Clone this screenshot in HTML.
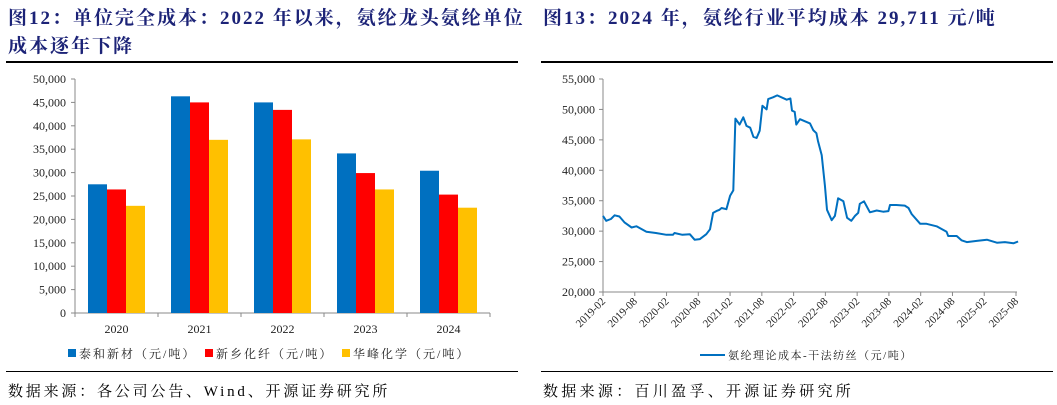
<!DOCTYPE html>
<html><head><meta charset="utf-8">
<style>
body{margin:0;width:1057px;height:405px;background:#fff;overflow:hidden;font-family:"Liberation Serif","Noto Serif CJK SC",serif;}
.t{position:absolute;color:#1c2377;font-weight:bold;font-size:19px;line-height:28px;letter-spacing:2px;font-family:"Liberation Serif","Noto Serif CJK SC",serif;white-space:nowrap;}
.rule{position:absolute;height:2px;background:#000;}
.src{position:absolute;font-size:15px;color:#000;letter-spacing:2.8px;font-family:"Liberation Serif","Noto Serif CJK SC",serif;white-space:nowrap;}
svg{position:absolute;left:0;top:0;}
svg text{font-family:"Liberation Serif","Noto Serif CJK SC",serif;}
</style></head><body>
<div class="t" style="left:8px;top:5px;">图12：单位完全成本：2022 年以来，氨纶龙头氨纶单位<br>成本逐年下降</div>
<div class="t" style="left:543px;top:5px;">图13：2024 年，氨纶行业平均成本 29,711 元/吨</div>
<div class="rule" style="left:6px;top:61px;width:512px;"></div>
<div class="rule" style="left:541px;top:61px;width:512px;"></div>
<div class="rule" style="left:6px;top:371px;width:512px;height:1px;"></div>
<div class="rule" style="left:541px;top:371px;width:512px;height:1px;"></div>
<div class="src" style="left:8px;top:380px;">数据来源：各公司公告、Wind、开源证券研究所</div>
<div class="src" style="left:543px;top:380px;letter-spacing:3.3px;">数据来源：百川盈孚、开源证券研究所</div>
<svg id="chart" width="1057" height="405"></svg>
<script>
const years=["2020","2021","2022","2023","2024"];
const taihe=[27500,46300,45000,34100,30400];
const xinxiang=[26400,45000,43400,29900,25300];
const huafeng=[22900,37000,37100,26400,22500];
const barTicks=[0,5000,10000,15000,20000,25000,30000,35000,40000,45000,50000];
const seriesNames=["泰和新材（元/吨）","新乡化纤（元/吨）","华峰化学（元/吨）"];
const lineMonths=[0,0.6,1.5,2.2,3.1,4.1,5.4,6.3,8.2,10,12,13.2,13.5,15,16.4,17.3,18.3,19.5,20.2,20.8,21.4,22,22.4,23.3,24,24.6,25,25.8,26.5,27.1,27.8,28.4,29,29.6,30.1,30.9,31.2,32.1,32.9,34.7,35.4,35.7,36.2,36.5,37.2,39.1,39.7,40.3,40.6,41.3,41.9,42.3,43.2,43.8,44.4,45.4,46.1,46.9,47.6,48.2,48.5,49.3,50.4,51.7,52.9,53.9,54.2,55.4,57,57.7,58.3,59.9,61.1,63,64.9,65.2,66.8,67.7,68.7,70.6,72.5,74.4,75.9,77.5,78.4];
const lineValues=[32500,31700,32000,32600,32400,31400,30600,30800,29900,29700,29400,29400,29700,29400,29500,28600,28700,29500,30300,33000,33300,33500,33800,33600,35800,36700,48500,47500,48700,47300,47000,45500,45300,46500,50600,50000,51700,52000,52300,51600,51800,49800,49600,47500,48400,47700,46600,46100,44800,42500,37500,33500,31800,32500,35400,34900,32200,31700,32500,33000,34500,34900,33100,33400,33200,33300,34300,34300,34200,33800,32800,31200,31200,30800,29900,29200,29200,28500,28200,28400,28600,28100,28200,28000,28300];
const lineTicks=[20000,25000,30000,35000,40000,45000,50000,55000];
const dateLabels=["2019-02","2019-08","2020-02","2020-08","2021-02","2021-08","2022-02","2022-08","2023-02","2023-08","2024-02","2024-08","2025-02","2025-08"];

const svg=document.getElementById('chart');
const NS="http://www.w3.org/2000/svg";
function mk(tag,attrs,parent){const e=document.createElementNS(NS,tag);for(const k in attrs)e.setAttribute(k,attrs[k]);(parent||svg).appendChild(e);return e;}
const fmt=v=>v.toLocaleString('en-US');

// ---- bar chart ----
const bx0=75,bx1=490,by0=313,by1=79;
const byS=v=>by0-(v/50000)*(by0-by1);
const catW=(bx1-bx0)/years.length;
const bxS=i=>bx0+i*catW;
let e;
e=mk('line',{x1:bx0,y1:by1,x2:bx0,y2:by0,stroke:'#888','stroke-width':1});


e=mk('line',{x1:bx0,y1:by0,x2:bx1,y2:by0,stroke:'#888','stroke-width':1});


barTicks.forEach(v=>{
  mk('line',{x1:bx0-4,y1:byS(v),x2:bx0,y2:byS(v),stroke:'#888'});
  e=mk('text',{x:bx0-9,y:byS(v)+4,'text-anchor':'end','font-size':12,fill:'#222'});
  e.textContent=fmt(v);
  
  
});
for(let i=0;i<=years.length;i++)mk('line',{x1:bxS(i),y1:by0,x2:bxS(i),y2:by0+4,stroke:'#888'});
const colors=['#0070c0','#ff0000','#ffc000'];
const barW=19,gap=(catW-3*barW)/2;
[taihe,xinxiang,huafeng].forEach((s,si)=>{
  s.forEach((v,i)=>{
    e=mk('rect',{x:bxS(i)+gap+si*barW,y:byS(v),width:barW,height:by0-byS(v),fill:colors[si]});
    
    
  });
});
years.forEach((y,i)=>{
  e=mk('text',{x:bxS(i)+catW/2,y:333,'text-anchor':'middle','font-size':12,fill:'#222'});
  e.textContent=y;
  
  
});
const legX=[68,205,342];
seriesNames.forEach((n,i)=>{
  e=mk('rect',{x:legX[i],y:349,width:8,height:8,fill:colors[i]});
  
  
  e=mk('text',{x:legX[i]+11,y:358,'font-size':12,fill:'#222','letter-spacing':'2'});
  e.textContent=n;
  
  
});

// ---- line chart ----
const lx0=603,lx1=1016,ly0=292,ly1=79;
const lyS=v=>ly0-(v-20000)/35000*(ly0-ly1);
const lxS=m=>lx0+m/78*(lx1-lx0);
e=mk('line',{x1:lx0,y1:ly1,x2:lx0,y2:ly0,stroke:'#888'});


e=mk('line',{x1:lx0,y1:ly0,x2:lx1+1,y2:ly0,stroke:'#888'});


lineTicks.forEach(v=>{
  mk('line',{x1:lx0-4,y1:lyS(v),x2:lx0,y2:lyS(v),stroke:'#888'});
  e=mk('text',{x:lx0-8,y:lyS(v)+4,'text-anchor':'end','font-size':12,fill:'#222'});
  e.textContent=fmt(v);
  
  
});
dateLabels.forEach((d,i)=>{
  const x=lxS(i*6);
  mk('line',{x1:x,y1:ly0,x2:x,y2:ly0+4,stroke:'#888'});
  e=mk('text',{x:x+3,y:ly0+10,'text-anchor':'end','font-size':11,fill:'#222',transform:`rotate(-45 ${x+3} ${ly0+10})`});
  e.textContent=d;
  
  
});
let dStr=lineMonths.map((m,i)=>(i?'L':'M')+lxS(m).toFixed(1)+' '+lyS(lineValues[i]).toFixed(1)).join(' ');
e=mk('path',{d:dStr,fill:'none',stroke:'#0070c0','stroke-width':2,'stroke-linejoin':'round'});


e=mk('line',{x1:700,y1:355,x2:725,y2:355,stroke:'#0070c0','stroke-width':2});


e=mk('text',{x:728,y:359,'font-size':11,fill:'#222','letter-spacing':'1.5'});
e.textContent='氨纶理论成本-干法纺丝（元/吨）';


</script>
</body></html>
